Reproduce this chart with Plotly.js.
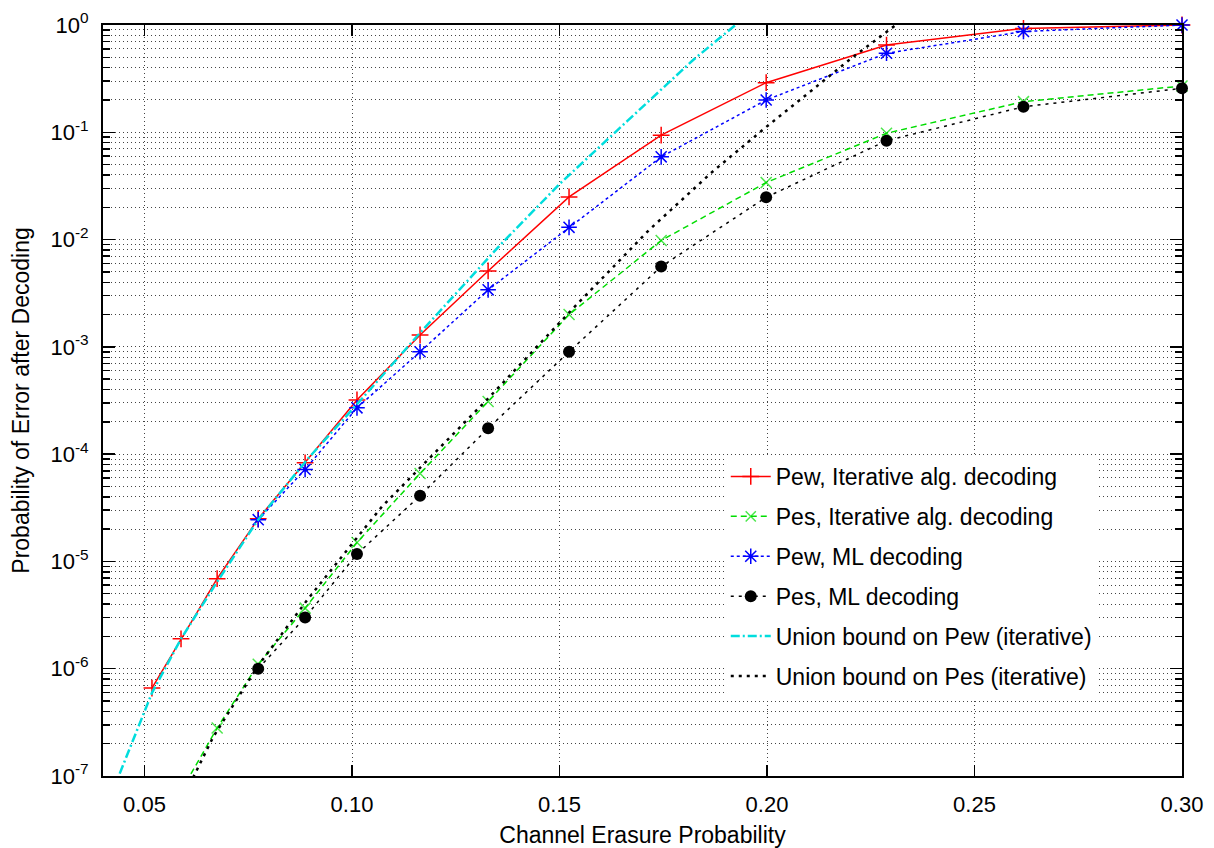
<!DOCTYPE html>
<html>
<head>
<meta charset="utf-8">
<script src="https://cdn.plot.ly/plotly-3.0.1.min.js"></script>
<style>
  html, body { margin: 0; padding: 0; background: #fff; }
  #chart { width: 1214px; height: 848px; }
</style>
</head>
<body>
<div id="chart"></div>
<script>
// ---- Data ----
const xPewIter = [0.0518, 0.0588, 0.0675, 0.0774, 0.0887, 0.1012, 0.1164, 0.1328, 0.1523, 0.1745, 0.1998, 0.2288, 0.2618, 0.30];
const pewIter  = [6.6e-7, 1.9e-6, 6.9e-6, 2.5e-5, 8.3e-5, 3.2e-4, 1.29e-3, 5.1e-3, 0.025, 0.094, 0.29, 0.65, 0.93, 1.0];

const xPesIter = [0.0588, 0.0675, 0.0774, 0.0887, 0.1012, 0.1164, 0.1328, 0.1523, 0.1745, 0.1998, 0.2288, 0.2618, 0.30];
const pesIter  = [7.2e-8, 2.8e-7, 1.1e-6, 3.67e-6, 1.5e-5, 6.6e-5, 3.1e-4, 2.0e-3, 9.8e-3, 0.034, 0.098, 0.193, 0.27];

const xPewML = [0.0774, 0.0887, 0.1012, 0.1164, 0.1328, 0.1523, 0.1745, 0.1998, 0.2288, 0.2618, 0.30];
const pewML  = [2.45e-5, 7.2e-5, 2.7e-4, 9.0e-4, 3.4e-3, 0.013, 0.059, 0.20, 0.545, 0.87, 1.0];

const xPesML = [0.0774, 0.0887, 0.1012, 0.1164, 0.1328, 0.1523, 0.1745, 0.1998, 0.2288, 0.2618, 0.30];
const pesML  = [1.0e-6, 3.0e-6, 1.17e-5, 4.1e-5, 1.74e-4, 9.0e-4, 5.6e-3, 0.0248, 0.0835, 0.173, 0.257];

const xUnionPew = [0.0425, 0.0518, 0.0588, 0.0675, 0.0774, 0.0892, 0.1027, 0.1164, 0.1357, 0.1502, 0.1663, 0.1822, 0.1924, 0.196];
const unionPew  = [7.5e-8, 5.96e-7, 1.9e-6, 6.46e-6, 2.45e-5, 8.9e-5, 3.39e-4, 1.35e-3, 8.9e-3, 0.0335, 0.127, 0.472, 1.0, 1.29];

const xUnionPes = [0.0600, 0.0665, 0.0774, 0.0892, 0.1072, 0.1326, 0.1533, 0.1716, 0.1868, 0.1998, 0.2109, 0.2198, 0.2294, 0.2335];
const unionPes  = [7.1e-8, 2.29e-7, 1.07e-6, 4.37e-6, 3.24e-5, 3.24e-4, 2.29e-3, 0.0123, 0.0427, 0.112, 0.248, 0.472, 0.897, 1.17];

const seriesNames = [
  'Pew, Iterative alg. decoding',
  'Pes, Iterative alg. decoding',
  'Pew, ML decoding',
  'Pes, ML decoding',
  'Union bound on Pew (iterative)',
  'Union bound on Pes (iterative)'
];

const xTickVals = [0.05, 0.10, 0.15, 0.20, 0.25, 0.30];
const xTickText = ['0.05', '0.10', '0.15', '0.20', '0.25', '0.30'];
const yTickVals = [1e-7, 1e-6, 1e-5, 1e-4, 1e-3, 1e-2, 1e-1, 1];
const yTickText = ['10<sup>-7</sup>', '10<sup>-6</sup>', '10<sup>-5</sup>', '10<sup>-4</sup>',
                   '10<sup>-3</sup>', '10<sup>-2</sup>', '10<sup>-1</sup>', '10<sup>0</sup>'];
const minorMultipliers = [2, 3, 4, 5, 6, 7, 8, 9];

// minor tick positions (2..9 per decade) built from the tick arrays above
const yMinorVals = [];
yTickVals.slice(0, -1).forEach(d => minorMultipliers.forEach(m => yMinorVals.push(d * m)));

const FONT = '"Liberation Sans", Arial, Helvetica, sans-serif';

const traces = [
  {
    x: xPewIter, y: pewIter, name: seriesNames[0], legendgroup: 'g1',
    mode: 'lines+markers', cliponaxis: false,
    line: { color: '#ff0000', width: 1.5 },
    marker: { symbol: 'cross-thin-open', size: 12, line: { color: '#ff0000', width: 1.5 } }
  },
  {
    x: xPesIter, y: pesIter, name: seriesNames[1], legendgroup: 'g2',
    mode: 'lines+markers', cliponaxis: false,
    line: { color: '#00dd00', width: 1.5, dash: '6px,4px' },
    marker: { symbol: 'x-thin-open', size: xPesIter.map((v, i) => i === 0 ? 0 : 11),
              line: { color: '#00dd00', width: 1.5 } }
  },
  {
    x: xPewML, y: pewML, name: seriesNames[2], legendgroup: 'g3',
    mode: 'lines+markers', cliponaxis: false,
    line: { color: '#0000ff', width: 1.5, dash: '3px,3px' },
    marker: { symbol: 'asterisk-open', size: 13, line: { color: '#0000ff', width: 1.5 } }
  },
  {
    x: xPesML, y: pesML, name: seriesNames[3], legendgroup: 'g4',
    mode: 'lines+markers', cliponaxis: false,
    line: { color: '#000000', width: 1.5, dash: '3px,5px' },
    marker: { symbol: 'circle', size: 12, color: '#000000' }
  },
  {
    x: xUnionPew, y: unionPew, name: seriesNames[4], legendgroup: 'g5',
    mode: 'lines',
    line: { color: '#00dddd', width: 2.5, dash: '9px,3px,2px,3px' }
  },
  {
    x: xUnionPes, y: unionPes, name: seriesNames[5], legendgroup: 'g6',
    mode: 'lines',
    line: { color: '#000000', width: 2.5, dash: '3px,5px' }
  }
];

const gridCol = '#444444';
const gridDash = '1px,3px';

const layout = {
  width: 1214, height: 848,
  margin: { l: 103, r: 32, t: 25, b: 72, pad: 0 },
  paper_bgcolor: '#ffffff', plot_bgcolor: '#ffffff',
  font: { family: FONT, size: 22, color: '#000000' },
  showlegend: true,
  legend: {
    x: 0.921, y: 0.4274, xanchor: 'right', yanchor: 'top',
    bgcolor: '#ffffff', borderwidth: 0,
    font: { family: FONT, size: 23, color: '#000000' },
    traceorder: 'grouped', tracegroupgap: 7,
    itemwidth: 40
  },
  xaxis: {
    type: 'linear', range: [0.04, 0.30],
    tickmode: 'array', tickvals: xTickVals, ticktext: xTickText,
    ticks: 'inside', ticklen: 11, tickwidth: 1.5, tickcolor: '#000',
    showline: true, linecolor: '#000', linewidth: 2, mirror: 'ticks',
    showgrid: true, gridcolor: gridCol, gridwidth: 1, griddash: gridDash,
    zeroline: false,
    tickfont: { family: FONT, size: 22 },
    ticklabelstandoff: 8,
    title: { text: 'Channel Erasure Probability', font: { family: FONT, size: 23 }, standoff: 18 }
  },
  yaxis: {
    type: 'log', range: [-7, 0],
    tickmode: 'array', tickvals: yTickVals, ticktext: yTickText,
    ticks: 'inside', ticklen: 12, tickwidth: 1.5, tickcolor: '#000',
    showline: true, linecolor: '#000', linewidth: 2, mirror: 'ticks',
    showgrid: true, gridcolor: gridCol, gridwidth: 1, griddash: gridDash,
    zeroline: false,
    tickfont: { family: FONT, size: 22 },
    ticklabelstandoff: 8,
    minor: {
      tickmode: 'array', tickvals: yMinorVals,
      ticks: 'inside', ticklen: 7, tickwidth: 1.5, tickcolor: '#000',
      showgrid: true, gridcolor: gridCol, gridwidth: 1, griddash: gridDash
    },
    title: { text: 'Probability of Error after Decoding', font: { family: FONT, size: 23 }, standoff: 14 }
  }
};

Plotly.newPlot('chart', traces, layout, { displayModeBar: false, staticPlot: true });
</script>
</body>
</html>
